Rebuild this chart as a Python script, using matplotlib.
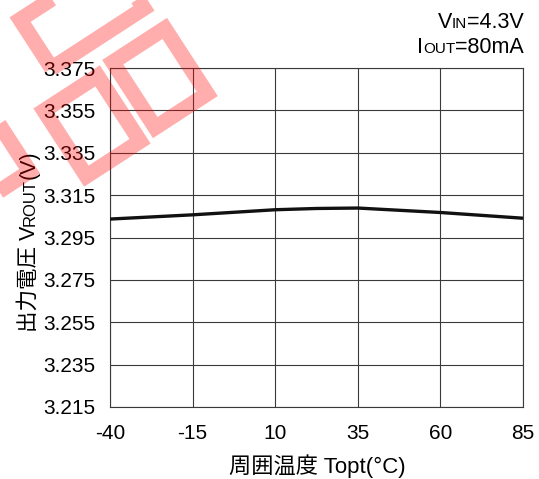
import matplotlib
matplotlib.use("Agg")
import matplotlib.pyplot as plt
from matplotlib.patches import Rectangle

# Output voltage vs. ambient temperature
temps = [-40, -15, 10, 22.5, 35, 60, 85]
vout = [3.3037, 3.3057, 3.3081, 3.3087, 3.3089, 3.3068, 3.3041]

x_ticks = [-40, -15, 10, 35, 60, 85]
y_ticks = [3.215, 3.235, 3.255, 3.275, 3.295, 3.315, 3.335, 3.355, 3.375]
y_tick_labels = ["3.215", "3.235", "3.255", "3.275", "3.295",
                 "3.315", "3.335", "3.355", "3.375"]

cond_lines = [("V", "IN", "=4.3V"), ("I", "OUT", "=80mA")]
ylabel_runs = [("出力電圧 V", "big"), ("ROUT", "small"), ("(V)", "big")]
xlabel_text = "周囲温度 Topt(°C)"

W, H = 539, 479
DPI = 100
FAM = ["Liberation Sans", "Noto Sans CJK JP", "DejaVu Sans"]
BIG, SMALL = 15.5, 11.0

plt.rcParams["font.family"] = FAM

fig = plt.figure(figsize=(W / DPI, H / DPI), dpi=DPI)
ax = fig.add_axes([110 / W, 1 - 407 / H, (523 - 110) / W, (407 - 68) / H])

grid_c = "#3a3a3a"
ax.plot(temps, vout, color="#111111", lw=2.4, solid_capstyle="butt", zorder=3)
ax.set_xlim(-40, 85)
ax.set_ylim(3.215, 3.375)
ax.set_xticks(x_ticks)
ax.set_xticklabels([str(t) for t in x_ticks])
ax.set_yticks(y_ticks)
ax.set_yticklabels(y_tick_labels)
ax.grid(True, color=grid_c, lw=0.8)
for s in ax.spines.values():
    s.set_color(grid_c)
    s.set_linewidth(0.8)
ax.tick_params(axis="both", length=0, labelsize=15, colors="black")
ax.tick_params(axis="y", pad=10.5)
ax.tick_params(axis="x", pad=12)

renderer = fig.canvas.get_renderer()


def run_width(text, size):
    t = fig.text(0, 0, text, fontsize=size, family=FAM)
    w = t.get_window_extent(renderer).width
    t.remove()
    return w


# Test conditions, right aligned above the plot
for (big1, small, big2), base_y in zip(cond_lines, [28, 53]):
    runs = [(big1, BIG), (small, SMALL), (big2, BIG)]
    widths = [run_width(s, sz) for s, sz in runs]
    x = 524 - sum(widths)
    for (s, sz), w in zip(runs, widths):
        fig.text(x / W, 1 - base_y / H, s, fontsize=sz, family=FAM,
                 ha="left", va="baseline")
        x += w

# Rotated y-axis label with small-caps subscript
sizes = {"big": BIG, "small": 12.0}
widths = [run_width(s, sizes[k]) for s, k in ylabel_runs]
y = 237.5 + sum(widths) / 2 + 4
for (s, k), w in zip(ylabel_runs, widths):
    fig.text(35 / W, 1 - y / H, s, fontsize=sizes[k], family=FAM,
             rotation=90, rotation_mode="anchor", ha="left", va="baseline")
    y -= w

# x-axis label
fig.text(317 / W, 1 - 473 / H, xlabel_text, fontsize=16, family=FAM,
         ha="center", va="baseline")

# Red sample stamp in the upper-left corner
stamp = fig.add_axes([0, 0, 1, 1], zorder=10)
stamp.set_xlim(0, W)
stamp.set_ylim(0, H)
stamp.axis("off")
stamp.patch.set_alpha(0)
boxes = [
    (82, 14, 110, 58, 33),
    (160, 78, 62, 78, 33),
    (92, 126, 64, 78, 33),
    (-20, 150, 60, 90, 33),
]
for cx, cy, w, h, ang in boxes:
    stamp.add_patch(Rectangle((cx - w / 2, H - cy - h / 2), w, h, angle=ang,
                              rotation_point="center", fill=False,
                              edgecolor=(1, 0, 0), alpha=0.32, lw=11))

fig.savefig("out.png", dpi=DPI)
